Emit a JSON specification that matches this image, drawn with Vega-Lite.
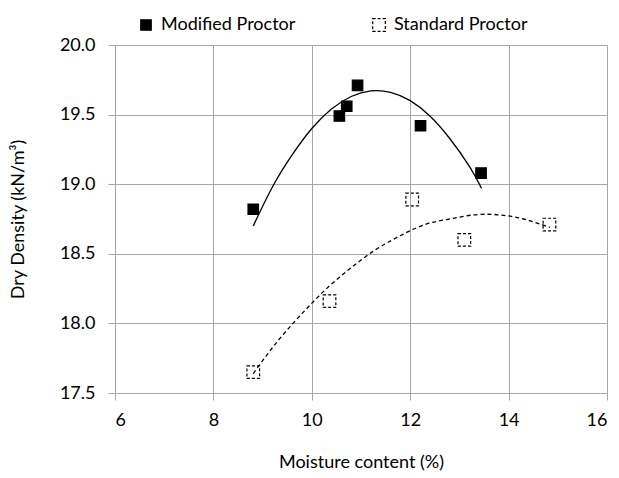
{
  "$schema": "https://vega.github.io/schema/vega-lite/v6.json",
  "width": 492,
  "height": 348,
  "autosize": {"type": "none"},
  "padding": {"left": 115, "top": 45, "right": 12, "bottom": 85},
  "background": "white",
  "config": {
    "font": "Lato",
    "view": {"stroke": null},
    "axis": {
      "labelFont": "Lato",
      "labelFontSize": 18,
      "labelColor": "#000000",
      "titleFont": "Lato",
      "titleFontSize": 18,
      "titleFontWeight": "normal",
      "titleColor": "#000000",
      "gridColor": "#a6a6a6",
      "gridWidth": 1,
      "domainColor": "#a6a6a6",
      "tickColor": "#a6a6a6",
      "tickSize": 7
    },
    "legend": {
      "labelFont": "Lato",
      "labelFontSize": 18,
      "labelColor": "#000000"
    }
  },
  "datasets": {
    "observed": [
      {"series": "Modified Proctor", "w": 8.81, "d": 18.82},
      {"series": "Modified Proctor", "w": 10.56, "d": 19.49},
      {"series": "Modified Proctor", "w": 10.71, "d": 19.56},
      {"series": "Modified Proctor", "w": 10.93, "d": 19.71},
      {"series": "Modified Proctor", "w": 12.21, "d": 19.42},
      {"series": "Modified Proctor", "w": 13.44, "d": 19.08},
      {"series": "Standard Proctor", "w": 8.81, "d": 17.65},
      {"series": "Standard Proctor", "w": 10.36, "d": 18.16},
      {"series": "Standard Proctor", "w": 12.04, "d": 18.89},
      {"series": "Standard Proctor", "w": 13.1, "d": 18.6},
      {"series": "Standard Proctor", "w": 14.83, "d": 18.71}
    ],
    "trend": [
      {"series": "Modified Proctor", "w": 8.81, "d": 18.70},
      {"series": "Modified Proctor", "w": 9.2, "d": 18.98},
      {"series": "Modified Proctor", "w": 9.6, "d": 19.21},
      {"series": "Modified Proctor", "w": 10.0, "d": 19.40},
      {"series": "Modified Proctor", "w": 10.4, "d": 19.54},
      {"series": "Modified Proctor", "w": 10.8, "d": 19.63},
      {"series": "Modified Proctor", "w": 11.2, "d": 19.67},
      {"series": "Modified Proctor", "w": 11.6, "d": 19.66},
      {"series": "Modified Proctor", "w": 12.0, "d": 19.60},
      {"series": "Modified Proctor", "w": 12.4, "d": 19.49},
      {"series": "Modified Proctor", "w": 12.8, "d": 19.33},
      {"series": "Modified Proctor", "w": 13.2, "d": 19.13},
      {"series": "Modified Proctor", "w": 13.45, "d": 18.97},
      {"series": "Standard Proctor", "w": 8.81, "d": 17.64},
      {"series": "Standard Proctor", "w": 9.3, "d": 17.87},
      {"series": "Standard Proctor", "w": 9.8, "d": 18.07},
      {"series": "Standard Proctor", "w": 10.3, "d": 18.25},
      {"series": "Standard Proctor", "w": 10.8, "d": 18.40},
      {"series": "Standard Proctor", "w": 11.3, "d": 18.53},
      {"series": "Standard Proctor", "w": 11.8, "d": 18.63},
      {"series": "Standard Proctor", "w": 12.3, "d": 18.71},
      {"series": "Standard Proctor", "w": 12.8, "d": 18.75},
      {"series": "Standard Proctor", "w": 13.3, "d": 18.78},
      {"series": "Standard Proctor", "w": 13.8, "d": 18.78},
      {"series": "Standard Proctor", "w": 14.3, "d": 18.75},
      {"series": "Standard Proctor", "w": 14.84, "d": 18.69}
    ]
  },
  "layer": [
    {
      "data": {"name": "trend"},
      "transform": [{"filter": "datum.series === 'Modified Proctor'"}],
      "mark": {"type": "line", "color": "#000000", "strokeWidth": 1.3, "interpolate": "natural"},
      "encoding": {
        "x": {"field": "w", "type": "quantitative"},
        "y": {"field": "d", "type": "quantitative"}
      }
    },
    {
      "data": {"name": "trend"},
      "transform": [{"filter": "datum.series === 'Standard Proctor'"}],
      "mark": {"type": "line", "color": "#000000", "strokeWidth": 1.3, "strokeDash": [4, 3], "interpolate": "natural"},
      "encoding": {
        "x": {"field": "w", "type": "quantitative"},
        "y": {"field": "d", "type": "quantitative"}
      }
    },
    {
      "data": {"name": "observed"},
      "mark": {"type": "point", "shape": "square", "stroke": "#000000", "strokeWidth": 1.2, "opacity": 1},
      "encoding": {
        "x": {
          "field": "w",
          "type": "quantitative",
          "title": "Moisture content (%)",
          "scale": {"domain": [6, 16], "nice": false, "zero": false},
          "axis": {"values": [6, 8, 10, 12, 14, 16], "labelPadding": 11, "titlePadding": 24}
        },
        "y": {
          "field": "d",
          "type": "quantitative",
          "title": "Dry Density (kN/m³)",
          "scale": {"domain": [17.5, 20.0], "nice": false, "zero": false},
          "axis": {"values": [17.5, 18.0, 18.5, 19.0, 19.5, 20.0], "format": ".1f", "labelPadding": 13, "titlePadding": 32}
        },
        "fill": {
          "field": "series",
          "type": "nominal",
          "scale": {"domain": ["Modified Proctor", "Standard Proctor"], "range": ["#000000", "transparent"]},
          "legend": {
            "title": null,
            "orient": "none",
            "direction": "horizontal",
            "legendX": 22,
            "legendY": -29,
            "symbolSize": 100,
            "symbolStrokeWidth": 1.2,
            "labelOffset": 6,
            "columnPadding": 74
          }
        },
        "strokeDash": {
          "field": "series",
          "type": "nominal",
          "scale": {"domain": ["Modified Proctor", "Standard Proctor"], "range": [[1, 0], [3, 2]]}
        },
        "size": {
          "field": "series",
          "type": "nominal",
          "scale": {"domain": ["Modified Proctor", "Standard Proctor"], "range": [110, 160]}
        }
      }
    }
  ]
}
